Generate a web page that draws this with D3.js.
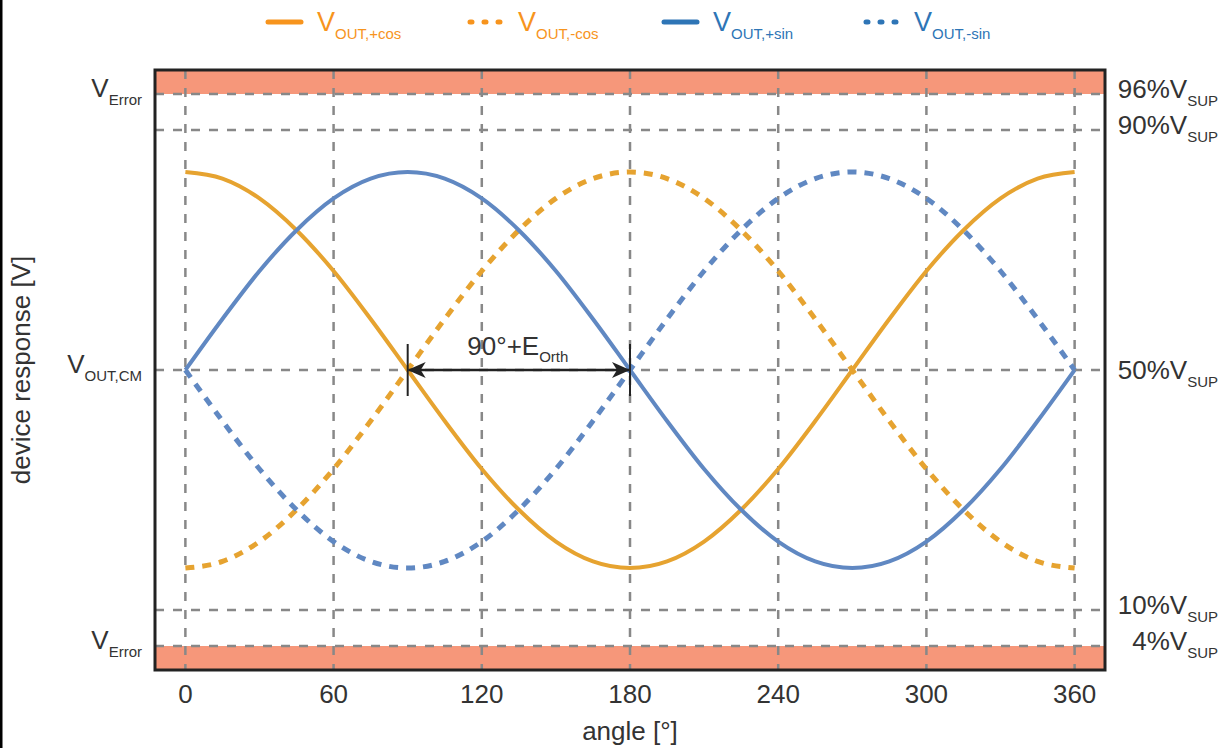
<!DOCTYPE html>
<html>
<head>
<meta charset="utf-8">
<script src="https://cdn.jsdelivr.net/npm/d3@7"></script>
<style>
  body { margin: 0; background: #fff; }
  text { font-family: "Liberation Sans", Arial, sans-serif; fill: #333; }
</style>
</head>
<body>
<div id="chart"></div>
<script>
// angles in degrees, values in % of V_SUP
const angles = [0,15,30,45,60,75,90,105,120,135,150,165,180,195,210,225,240,255,270,285,300,315,330,345,360];
const cosPos = [83,81.9,78.6,73.3,66.5,58.5,50,41.5,33.5,26.7,21.4,18.1,17,18.1,21.4,26.7,33.5,41.5,50,58.5,66.5,73.3,78.6,81.9,83];
const cosNeg = [17,18.1,21.4,26.7,33.5,41.5,50,58.5,66.5,73.3,78.6,81.9,83,81.9,78.6,73.3,66.5,58.5,50,41.5,33.5,26.7,21.4,18.1,17];
const sinPos = [50,58.5,66.5,73.3,78.6,81.9,83,81.9,78.6,73.3,66.5,58.5,50,41.5,33.5,26.7,21.4,18.1,17,18.1,21.4,26.7,33.5,41.5,50];
const sinNeg = [50,41.5,33.5,26.7,21.4,18.1,17,18.1,21.4,26.7,33.5,41.5,50,58.5,66.5,73.3,78.6,81.9,83,81.9,78.6,73.3,66.5,58.5,50];

const xTicks = [0, 60, 120, 180, 240, 300, 360];
const levels = [4, 10, 50, 90, 96];
const rightLabels = [
  { v: 96, main: '96%V', sub: 'SUP' },
  { v: 90, main: '90%V', sub: 'SUP' },
  { v: 50, main: '50%V', sub: 'SUP' },
  { v: 10, main: '10%V', sub: 'SUP' },
  { v: 4, main: '4%V', sub: 'SUP' },
];
const leftLabels = [
  { v: 96, main: 'V', sub: 'Error' },
  { v: 50, main: 'V', sub: 'OUT,CM' },
  { v: 4, main: 'V', sub: 'Error' },
];
const errorBands = [[96, 100], [0, 4]];

const series = [
  { name: 'OUT,+cos', values: cosPos, color: '#e6a330', legend: '#f7941d', dashed: false },
  { name: 'OUT,-cos', values: cosNeg, color: '#e6a330', legend: '#f7941d', dashed: true },
  { name: 'OUT,+sin', values: sinPos, color: '#6088c2', legend: '#2e75b6', dashed: false },
  { name: 'OUT,-sin', values: sinNeg, color: '#6088c2', legend: '#2e75b6', dashed: true },
];

const width = 1226, height = 748;
const margin = { top: 70, right: 121, bottom: 78, left: 155 };
const graphWidth = width - margin.left - margin.right;
const graphHeight = height - margin.top - margin.bottom;

const svg = d3.select('#chart').append('svg')
  .attr('width', width)
  .attr('height', height);

// left edge line
svg.append('line')
  .attr('x1', 1).attr('x2', 1).attr('y1', 0).attr('y2', height)
  .attr('stroke', '#000').attr('stroke-width', 3);

const xScale = d3.scaleLinear().domain([-12.3, 372.3]).range([0, graphWidth]);
const yScale = d3.scaleLinear().domain([0, 100]).range([graphHeight, 0]);

const g = svg.append('g').attr('transform', `translate(${margin.left},${margin.top})`);

// error bands
g.selectAll('rect.band')
  .data(errorBands)
  .enter()
  .append('rect')
  .attr('class', 'band')
  .attr('x', 0)
  .attr('width', graphWidth)
  .attr('y', (d) => yScale(d[1]))
  .attr('height', (d) => yScale(d[0]) - yScale(d[1]))
  .attr('fill', '#f6977a');

// grid
g.selectAll('line.vgrid')
  .data(xTicks)
  .enter()
  .append('line')
  .attr('x1', (d) => xScale(d)).attr('x2', (d) => xScale(d))
  .attr('y1', 0).attr('y2', graphHeight)
  .attr('stroke', '#888').attr('stroke-width', 2.5)
  .attr('stroke-dasharray', '9,9');

g.selectAll('line.hgrid')
  .data(levels)
  .enter()
  .append('line')
  .attr('x1', 0).attr('x2', graphWidth)
  .attr('y1', (d) => yScale(d)).attr('y2', (d) => yScale(d))
  .attr('stroke', '#888').attr('stroke-width', 2.5)
  .attr('stroke-dasharray', '9,9');

// curves
const line = d3.line()
  .x((d, i) => xScale(angles[i]))
  .y((d) => yScale(d))
  .curve(d3.curveMonotoneX);

g.selectAll('path.curve')
  .data(series)
  .enter()
  .append('path')
  .attr('d', (d) => line(d.values))
  .attr('fill', 'none')
  .attr('stroke', (d) => d.color)
  .attr('stroke-width', (d) => (d.dashed ? 5 : 4))
  .attr('stroke-dasharray', (d) => (d.dashed ? '9,8' : null));

// orthogonality annotation
const defs = svg.append('defs');
defs.append('marker')
  .attr('id', 'arr')
  .attr('viewBox', '0 -8 18 16')
  .attr('refX', 17).attr('refY', 0)
  .attr('markerWidth', 18).attr('markerHeight', 16)
  .attr('markerUnits', 'userSpaceOnUse')
  .attr('orient', 'auto-start-reverse')
  .append('path')
  .attr('d', 'M0,-8L18,0L0,8L5,0Z')
  .attr('fill', '#222');

const annot = [90, 180];
g.selectAll('line.tick90')
  .data(annot)
  .enter()
  .append('line')
  .attr('x1', (d) => xScale(d)).attr('x2', (d) => xScale(d))
  .attr('y1', yScale(50) - 26).attr('y2', yScale(50) + 26)
  .attr('stroke', '#222').attr('stroke-width', 2);

g.append('line')
  .attr('x1', xScale(annot[0]) + 1).attr('x2', xScale(annot[1]) - 1)
  .attr('y1', yScale(50)).attr('y2', yScale(50))
  .attr('stroke', '#222').attr('stroke-width', 2.5)
  .attr('marker-start', 'url(#arr)')
  .attr('marker-end', 'url(#arr)');

const at = g.append('text')
  .attr('x', xScale(135) - 1)
  .attr('y', yScale(50) - 15)
  .attr('text-anchor', 'middle')
  .style('font-size', '26px');
at.append('tspan').text('90°+E');
at.append('tspan').attr('dy', 7).style('font-size', '15px').text('Orth');

// frame
g.append('rect')
  .attr('x', 0).attr('y', 0)
  .attr('width', graphWidth).attr('height', graphHeight)
  .attr('fill', 'none')
  .attr('stroke', '#222').attr('stroke-width', 3);

// x tick labels
g.selectAll('text.xt')
  .data(xTicks)
  .enter()
  .append('text')
  .attr('x', (d) => xScale(d))
  .attr('y', graphHeight + 33)
  .attr('text-anchor', 'middle')
  .style('font-size', '26px')
  .text((d) => d);

// right labels
const rl = g.selectAll('text.rl')
  .data(rightLabels)
  .enter()
  .append('text')
  .attr('x', width - margin.left - 8)
  .attr('y', (d) => yScale(d.v) + (d.v === 50 ? 9 : 4))
  .attr('text-anchor', 'end')
  .style('font-size', '26px');
rl.append('tspan').text((d) => d.main);
rl.append('tspan').attr('dy', 8).style('font-size', '15px').text((d) => d.sub);

// left labels
const ll = g.selectAll('text.ll')
  .data(leftLabels)
  .enter()
  .append('text')
  .attr('x', -13)
  .attr('y', (d) => yScale(d.v) + 3)
  .attr('text-anchor', 'end')
  .style('font-size', '26px');
ll.append('tspan').text((d) => d.main);
ll.append('tspan').attr('dy', 8).style('font-size', '15px').text((d) => d.sub);

// axis titles
svg.append('text')
  .attr('transform', `translate(30,${margin.top + yScale(50)}) rotate(-90)`)
  .attr('text-anchor', 'middle')
  .style('font-size', '26px')
  .text('device response [V]');

svg.append('text')
  .attr('x', margin.left + graphWidth / 2)
  .attr('y', height - 8)
  .attr('text-anchor', 'middle')
  .style('font-size', '26px')
  .text('angle [°]');

// legend
const legendX = [268, 470, 664, 866];
const lg = svg.selectAll('g.leg')
  .data(series)
  .enter()
  .append('g')
  .attr('transform', (d, i) => `translate(${legendX[i]},22)`);

lg.append('line')
  .attr('x1', 0).attr('x2', (d) => (d.dashed ? 30 : 33)).attr('y1', 0).attr('y2', 0)
  .attr('stroke', (d) => d.legend)
  .attr('stroke-width', 5)
  .attr('stroke-linecap', 'round')
  .attr('stroke-dasharray', (d) => (d.dashed ? '2,12' : null));

const lt = lg.append('text')
  .attr('x', (d) => (d.dashed ? 48 : 49))
  .attr('y', 9)
  .style('font-size', '27px')
  .style('fill', (d) => d.legend);
lt.append('tspan').text('V');
lt.append('tspan').attr('dy', 8).style('font-size', '15px').text((d) => d.name);
</script>
</body>
</html>
